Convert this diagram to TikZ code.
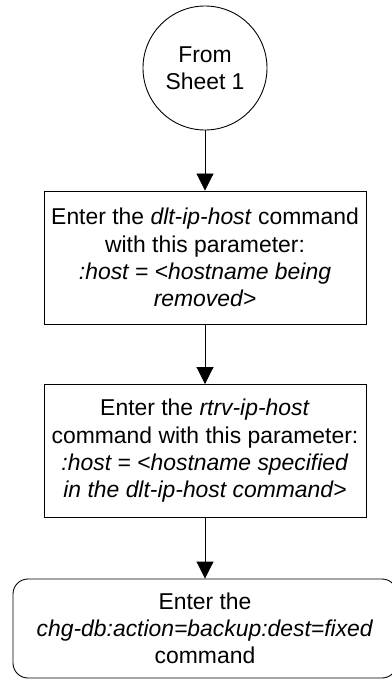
\documentclass[tikz,border=0pt]{standalone}
\usepackage{fontspec}
\setmainfont{Liberation Sans}
\usepackage{tikz}
\usetikzlibrary{arrows.meta, positioning}

\begin{document}
\begin{tikzpicture}[x=1bp, y=-1bp,
  font=\fontsize{22.9bp}{27.3bp}\selectfont,
  every node/.style={align=center, inner sep=0pt},
  sheetref/.style={draw, circle, line width=0.9bp, minimum size=124bp},
  cmdbox/.style={draw, rectangle, line width=0.9bp, minimum width=322bp, minimum height=133bp},
  endbox/.style={draw, rectangle, rounded corners=15bp, line width=0.9bp, minimum width=384bp, minimum height=99bp},
  flow/.style={line width=0.9bp, -{Triangle[length=17bp, width=17bp]}}]
\useasboundingbox (0,0) rectangle (391,679);
\node[sheetref] (start) at (205,68) {From\\Sheet 1};
\node[cmdbox] (dlt) at (205,257.5) {Enter the \textit{dlt-ip-host} command\\with this parameter:\\\textit{:host = <hostname being}\\\textit{removed>}};
\node[cmdbox] (rtrv) at (205,451) {Enter the \textit{rtrv-ip-host}\\command with this parameter:\\\textit{:host = <hostname specified}\\\textit{in the dlt-ip-host command>}};
\node[endbox] (backup) at (205,628.5) {Enter the\\\textit{chg-db:action=backup:dest=fixed}\\command};
\foreach \a/\b in {start/dlt, dlt/rtrv, rtrv/backup} {
  \draw[flow] (\a) -- (\b);
}
\end{tikzpicture}
\end{document}
